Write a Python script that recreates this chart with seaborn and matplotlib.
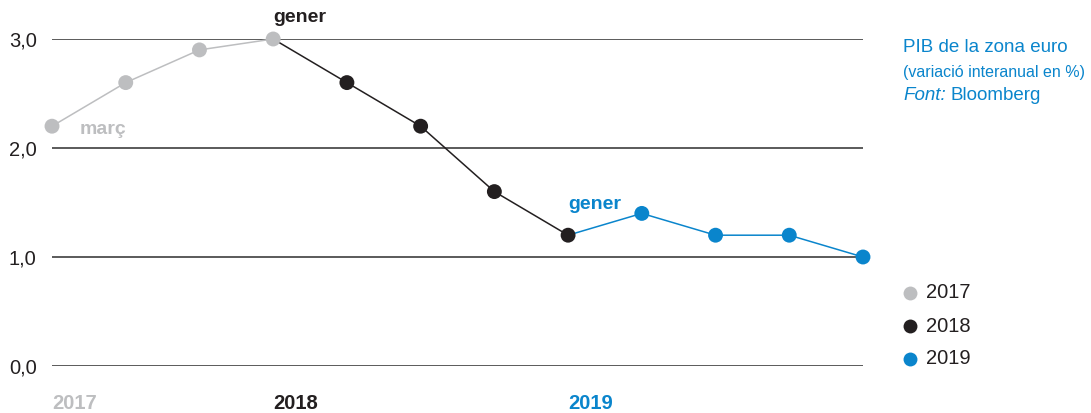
import matplotlib
matplotlib.use("Agg")
import matplotlib.pyplot as plt
from matplotlib.lines import Line2D
import seaborn as sns
import pandas as pd

# quarterly GDP growth, euro zone (% y/y)
quarters = ["mar17", "jun17", "set17", "gen18", "abr18", "jul18", "oct18",
            "gen19", "abr19", "jul19", "oct19", "gen20"]
values = [2.2, 2.6, 2.9, 3.0, 2.6, 2.2, 1.6, 1.2, 1.4, 1.2, 1.2, 1.0]
years = ["2017", "2018", "2019"]
# index ranges for each year's line and markers
line_idx = [(0, 4), (3, 8), (7, 12)]
mark_idx = [(0, 4), (4, 8), (8, 12)]
year_start = [0, 3, 7]
colors = ["#bdbec0", "#231f20", "#0a85cc"]
yticks = [0, 1, 2, 3]

sns.set_style("white")
plt.rcParams["font.family"] = ["Liberation Sans", "DejaVu Sans"]

fig = plt.figure(figsize=(10.91, 4.13), dpi=100)
ax = fig.add_axes([52 / 1091, 47 / 413, (863 - 52) / 1091, (366 - 39) / 413])

df = pd.DataFrame({"x": range(len(values)), "y": values})

for (a, b), (m0, m1), col in zip(line_idx, mark_idx, colors):
    seg = df.iloc[a:b]
    sns.lineplot(data=seg, x="x", y="y", color=col, lw=1.1, ax=ax, zorder=3)
    pts = df.iloc[m0:m1]
    sns.scatterplot(data=pts, x="x", y="y", color=col, s=115, ax=ax,
                    edgecolor="none", zorder=4, clip_on=False)

ax.set_xlim(0, len(values) - 1)
ax.set_ylim(0, 3)
for v in yticks:
    ax.axhline(v, color="#2e2e2e", lw=1.1, zorder=1)
ax.set_yticks(yticks)
ax.set_yticklabels([f"{v:.1f}".replace(".", ",") for v in yticks],
                   fontsize=14.5, color="#231f20")
ax.tick_params(axis="y", length=0, pad=11)
ax.set_xticks([])
ax.set_xlabel("")
ax.set_ylabel("")
for s in ax.spines.values():
    s.set_visible(False)

# year labels under the axis
for i, yr, col in zip(year_start, years, colors):
    ax.text(i, -0.34, yr, color=col, fontsize=14.5, fontweight="bold",
            ha="left", va="center")

# annotations
ax.text(3, 3.2, "gener", color=colors[1], fontsize=14, fontweight="bold",
        ha="left", va="center")
ax.text(0.38, 2.17, "març", color=colors[0], fontsize=14, fontweight="bold",
        ha="left", va="center")
ax.text(7, 1.48, "gener", color=colors[2], fontsize=14, fontweight="bold",
        ha="left", va="center")

# title block on the right
fig.text(903 / 1091, 1 - 47 / 413, "PIB de la zona euro", color=colors[2],
         fontsize=13.5, va="center", ha="left")
fig.text(903 / 1091, 1 - 73 / 413, "(variació interanual en %)", color=colors[2],
         fontsize=11.5, va="center", ha="left")
fig.text(903 / 1091, 1 - 96 / 413, "Font:", color=colors[2], fontsize=13.5,
         style="italic", va="center", ha="left")
fig.text(951 / 1091, 1 - 96 / 413, "Bloomberg", color=colors[2], fontsize=13.5,
         va="center", ha="left")

# legend
for k, (yr, col) in enumerate(zip(years, colors)):
    yy = 1 - (293 + 33 * k) / 413
    fig.add_artist(Line2D([910 / 1091], [yy], marker="o", markersize=10,
                          color=col, markeredgecolor="none",
                          transform=fig.transFigure))
    fig.text(926 / 1091, yy, yr, color="#231f20", fontsize=14.5,
             ha="left", va="center")

fig.savefig("out.png", dpi=100)
